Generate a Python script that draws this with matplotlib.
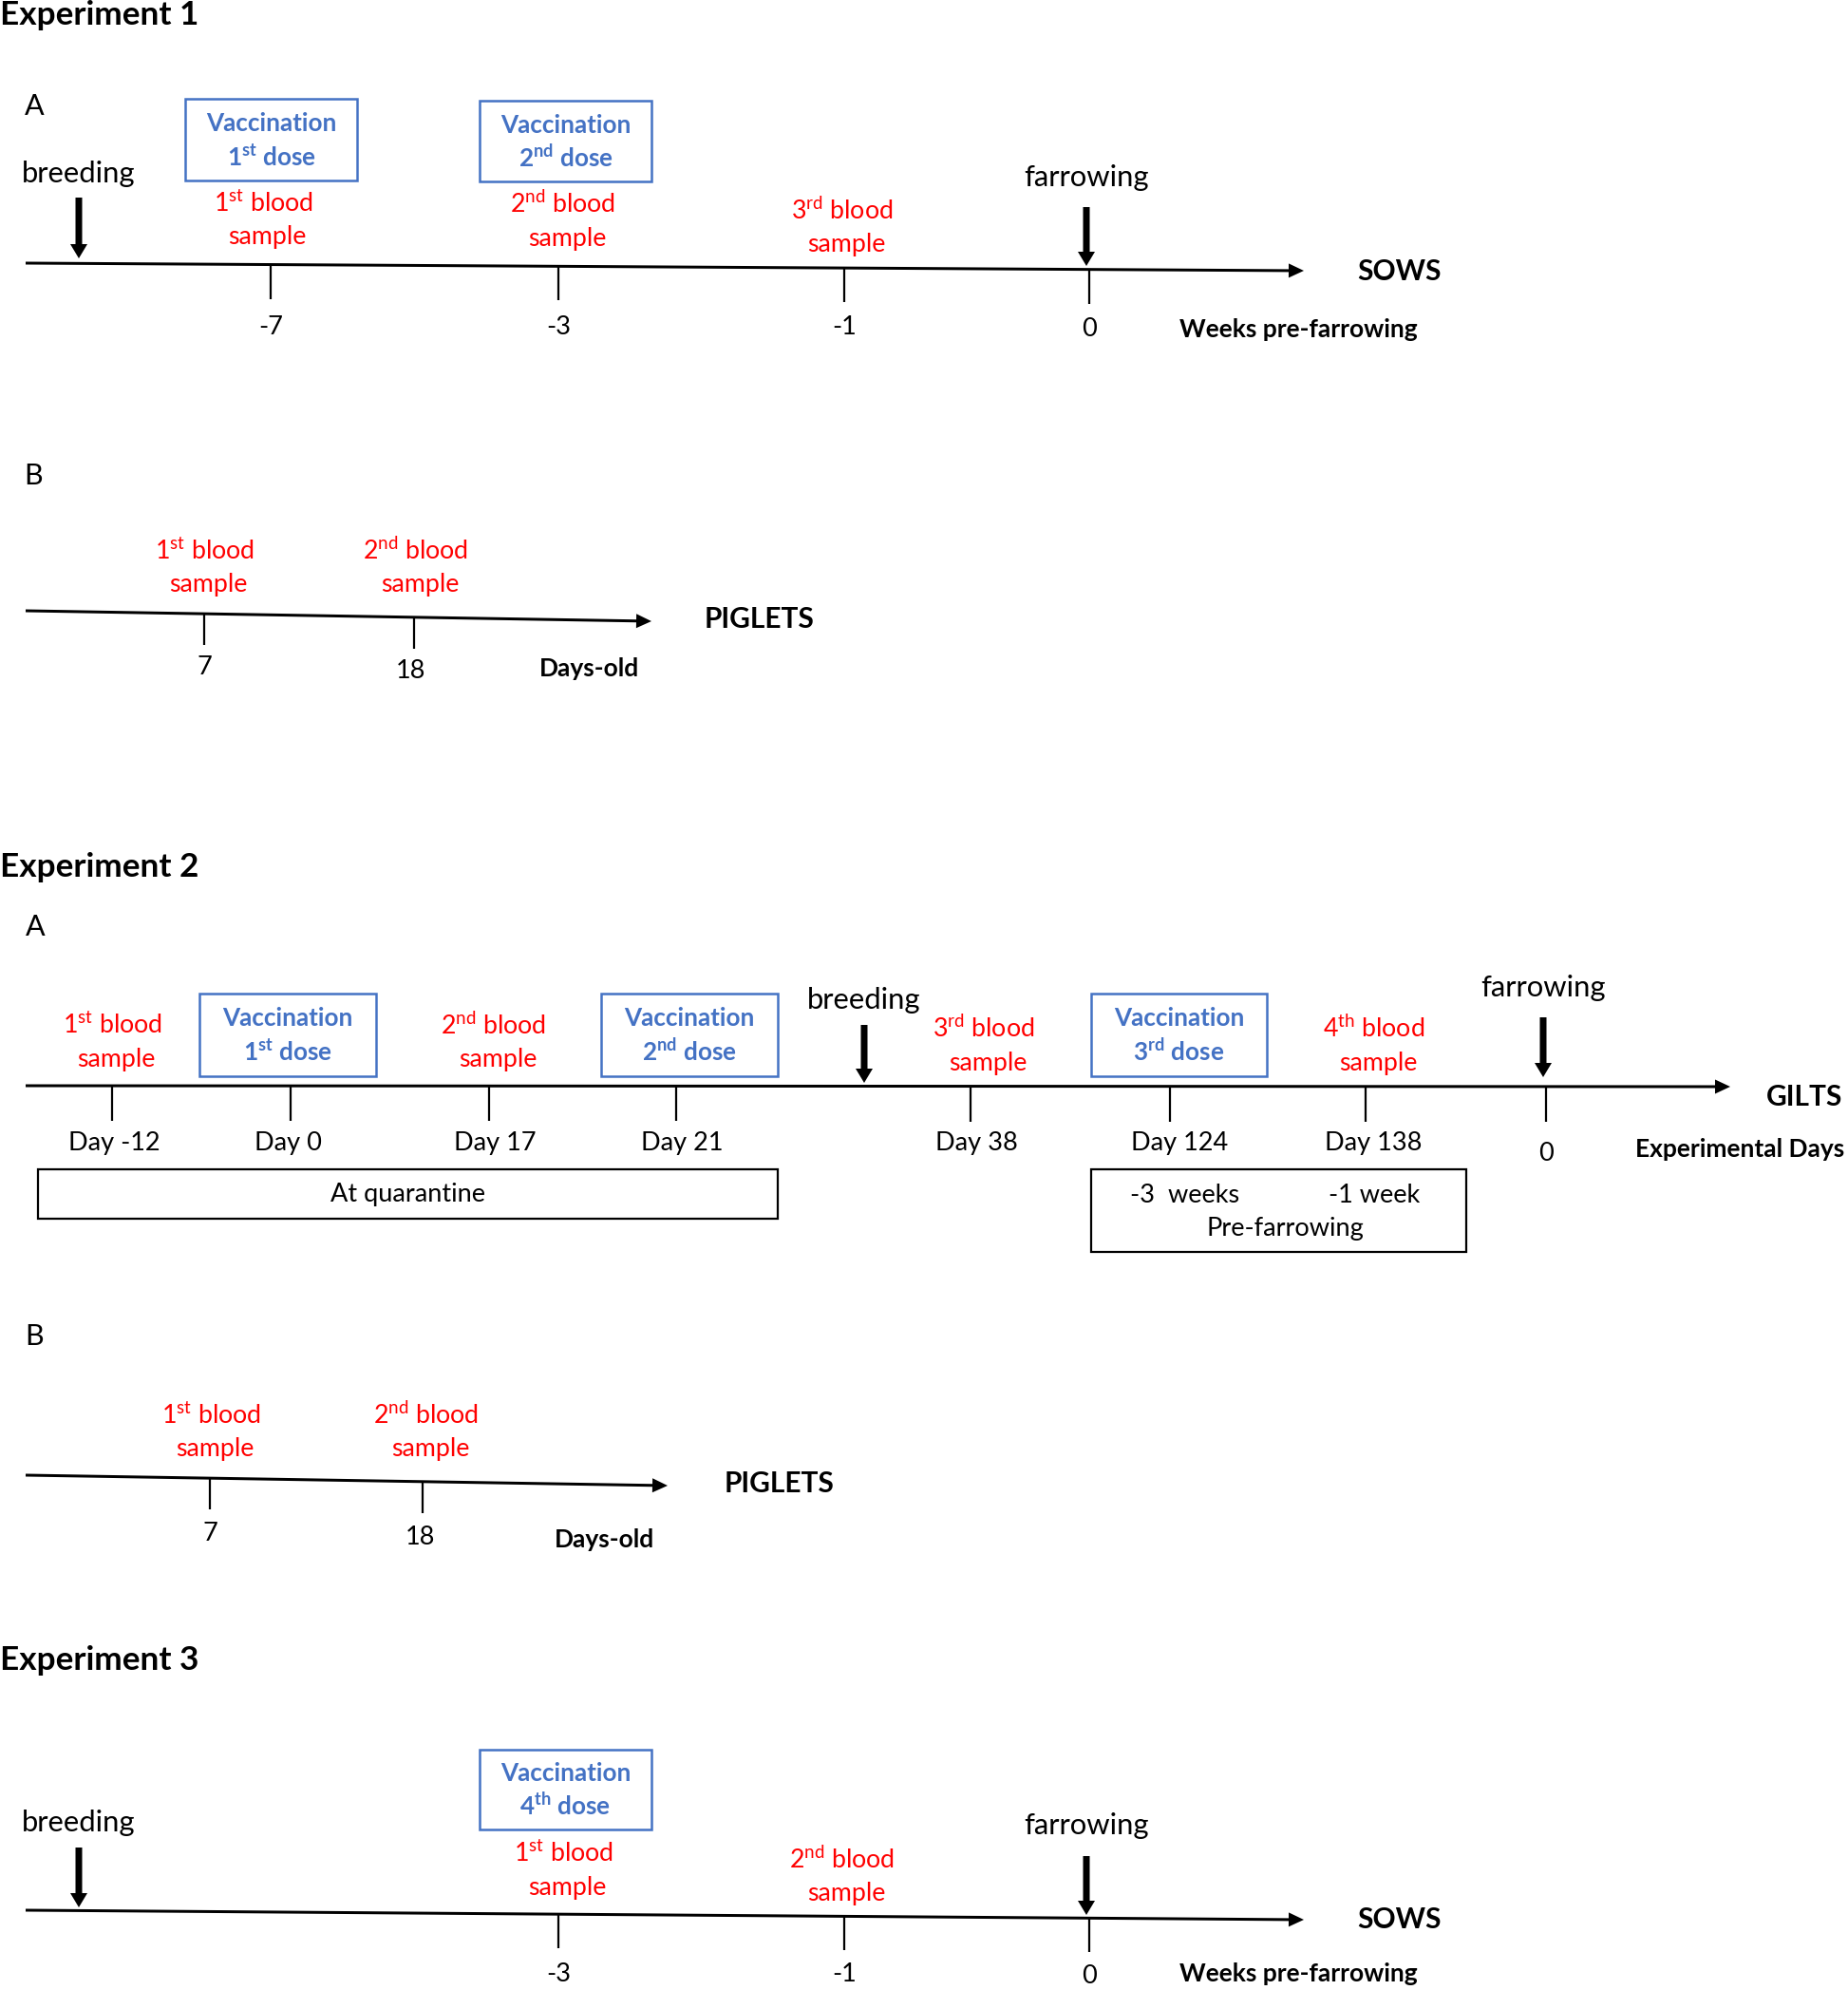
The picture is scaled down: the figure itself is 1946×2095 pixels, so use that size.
import matplotlib
matplotlib.use("Agg")
import matplotlib.pyplot as plt
from matplotlib.patches import Rectangle

plt.rcParams["font.family"] = ["Lato", "DejaVu Sans"]
plt.rcParams["mathtext.fontset"] = "custom"
plt.rcParams["mathtext.rm"] = "Lato"
plt.rcParams["mathtext.bf"] = "Lato:bold"

RED = "#FF0000"
BLUE = "#4472C4"
W, H = 1946, 2095

# Experiment 1 (sows) and experiment 3 (sows) share the weekly axis
SOW_WEEKS = ["-7", "-3", "-1", "0"]
SOW_TICK_X = [285, 588, 889, 1147]
EXP3_WEEKS = ["-3", "-1", "0"]
EXP3_TICK_X = [588, 889, 1147]

# piglets, days old
PIG_DAYS = ["7", "18"]
PIG1_TICK_X = [215, 436]
PIG1_LABEL_X = [215, 432]
PIG2_TICK_X = [221, 445]
PIG2_LABEL_X = [221, 442]

# Experiment 2 (gilts), experimental days
GILT_DAYS = ["Day -12", "Day 0", "Day 17", "Day 21", "Day 38", "Day 124", "Day 138", "0"]
GILT_TICK_X = [118, 306, 515, 712, 1022, 1232, 1438, 1628]
GILT_LABEL_X = [120, 303, 521, 718, 1028, 1242, 1446, 1628]

ORDINALS = ["1st", "2nd", "3rd", "4th"]


def sup(o, bold=False):
    cmd = "mathbf" if bold else "mathrm"
    return o[0] + r"$^{\%s{%s}}$" % (cmd, o[1:])


fig = plt.figure(figsize=(W / 100, H / 100), dpi=100)
ax = fig.add_axes([0, 0, 1, 1])
ax.set_xlim(0, W)
ax.set_ylim(H, 0)
ax.axis("off")


def timeline(x0, y0, x1, y1, ticks, labels, label_x, label_y, tick_len=36):
    ax.arrow(x0, y0, x1 - x0, y1 - y0, width=3, head_width=15, head_length=16,
             length_includes_head=True, color="black", lw=0)
    for x, lab, lx, ly in zip(ticks, labels, label_x, label_y):
        y = y0 + (y1 - y0) * (x - x0) / (x1 - x0)
        ax.plot([x, x], [y, y + tick_len], color="black", lw=1.6, solid_capstyle="butt")
        ax.text(lx, ly, lab, ha="center", va="center", fontsize=19.5)


def down_arrow(x, ytop, ybot, label, label_y):
    ax.arrow(x, ytop, 0, ybot - ytop, width=7, head_width=18, head_length=15,
             length_includes_head=True, color="black", lw=0)
    ax.text(x, label_y, label, ha="center", va="center", fontsize=22.3)


def vacc_box(x0, y0, x1, y1, ordinal):
    ax.add_patch(Rectangle((x0, y0), x1 - x0, y1 - y0, fill=False, edgecolor=BLUE, lw=1.8))
    cx = (x0 + x1) / 2
    ax.text(cx, y0 + 0.30 * (y1 - y0), "Vaccination", ha="center", va="center",
            fontsize=18.8, fontweight="bold", color=BLUE)
    ax.text(cx, y0 + 0.70 * (y1 - y0), sup(ordinal, True) + " dose", ha="center", va="center",
            fontsize=18.8, fontweight="bold", color=BLUE)


def blood(x, y, ordinal):
    ax.text(x, y, sup(ordinal) + " blood", ha="center", va="center", fontsize=19.3, color=RED)
    ax.text(x + 4, y + 36, "sample", ha="center", va="center", fontsize=19.3, color=RED)


def bold_text(x, y, s, size=21.5, ha="center"):
    ax.text(x, y, s, ha=ha, va="center", fontsize=size, fontweight="bold")


# ---------------- Experiment 1 ----------------
ax.text(0, 16, "Experiment 1", ha="left", va="center", fontsize=25.3, fontweight="bold")
ax.text(36, 112, "A", ha="center", va="center", fontsize=22)
vacc_box(195, 104, 376, 190, ORDINALS[0])
vacc_box(505, 106, 686, 191, ORDINALS[1])
blood(277, 214, ORDINALS[0])
blood(593, 215, ORDINALS[1])
blood(887, 222, ORDINALS[2])
down_arrow(83, 208, 272, "breeding", 183)
down_arrow(1144, 218, 280, "farrowing", 187)
timeline(27, 277, 1373, 285, SOW_TICK_X, SOW_WEEKS, SOW_TICK_X, [345, 345, 345, 346])
bold_text(1473, 286, "SOWS")
bold_text(1367, 347, "Weeks pre-farrowing", 19)

ax.text(35, 501, "B", ha="center", va="center", fontsize=22)
blood(215, 580, ORDINALS[0])
blood(438, 580, ORDINALS[1])
timeline(27, 643, 686, 654, PIG1_TICK_X, PIG_DAYS, PIG1_LABEL_X, [703, 706], tick_len=33)
bold_text(800, 652, "PIGLETS")
bold_text(621, 704, "Days-old", 19)

# ---------------- Experiment 2 ----------------
ax.text(0, 913, "Experiment 2", ha="left", va="center", fontsize=25.3, fontweight="bold")
ax.text(37, 976, "A", ha="center", va="center", fontsize=22)
blood(118, 1079, ORDINALS[0])
vacc_box(210, 1046, 396, 1133, ORDINALS[0])
blood(520, 1080, ORDINALS[1])
vacc_box(633, 1046, 819, 1133, ORDINALS[1])
down_arrow(910, 1079, 1140, "breeding", 1053)
blood(1036, 1083, ORDINALS[2])
vacc_box(1149, 1046, 1334, 1133, ORDINALS[2])
blood(1447, 1083, ORDINALS[3])
down_arrow(1625, 1071, 1134, "farrowing", 1040)
timeline(27, 1143, 1822, 1144, GILT_TICK_X, GILT_DAYS, GILT_LABEL_X,
         [1204] * 7 + [1214], tick_len=37)
bold_text(1900, 1155, "GILTS")
bold_text(1942, 1210, "Experimental Days", 19, ha="right")

ax.add_patch(Rectangle((40, 1231), 779, 52, fill=False, edgecolor="black", lw=1.6))
ax.text(429, 1258, "At quarantine", ha="center", va="center", fontsize=19.5)
ax.add_patch(Rectangle((1149, 1231), 395, 87, fill=False, edgecolor="black", lw=1.6))
ax.text(1248, 1258, "-3  weeks", ha="center", va="center", fontsize=19.5)
ax.text(1447, 1258, "-1 week", ha="center", va="center", fontsize=19.5)
ax.text(1353, 1294, "Pre-farrowing", ha="center", va="center", fontsize=19.5)

ax.text(36, 1407, "B", ha="center", va="center", fontsize=22)
blood(222, 1490, ORDINALS[0])
blood(449, 1490, ORDINALS[1])
timeline(27, 1553, 703, 1564, PIG2_TICK_X, PIG_DAYS, PIG2_LABEL_X, [1614, 1618], tick_len=33)
bold_text(821, 1562, "PIGLETS")
bold_text(636, 1621, "Days-old", 19)

# ---------------- Experiment 3 ----------------
ax.text(0, 1748, "Experiment 3", ha="left", va="center", fontsize=25.3, fontweight="bold")
vacc_box(505, 1842, 686, 1926, ORDINALS[3])
blood(593, 1951, ORDINALS[0])
blood(887, 1958, ORDINALS[1])
down_arrow(83, 1945, 2008, "breeding", 1919)
down_arrow(1144, 1954, 2016, "farrowing", 1922)
timeline(27, 2011, 1373, 2021, EXP3_TICK_X, EXP3_WEEKS, EXP3_TICK_X, [2078, 2078, 2081])
bold_text(1473, 2021, "SOWS")
bold_text(1367, 2078, "Weeks pre-farrowing", 19)

fig.savefig("out.png", dpi=100)
